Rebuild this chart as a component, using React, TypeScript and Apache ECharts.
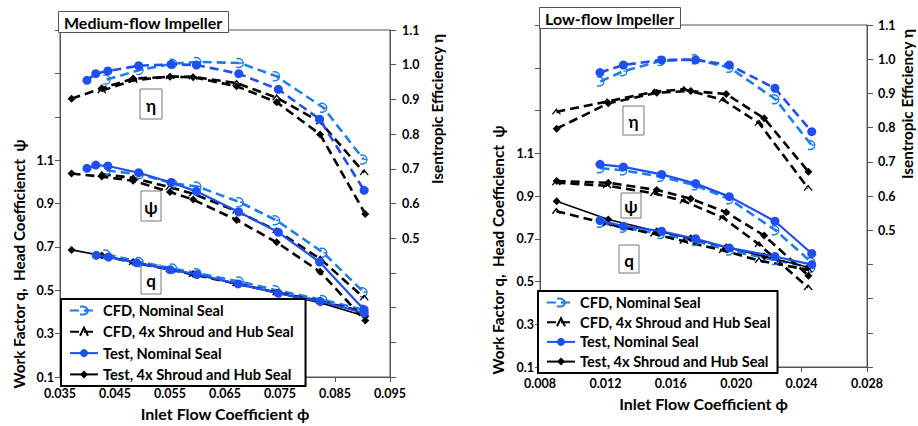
import React, { useEffect, useRef } from "react";
import * as echarts from "echarts";

// ---------- Data: Medium-flow impeller ----------
const M_PHI_TN = [0.0399, 0.0415, 0.0437, 0.0493, 0.0552, 0.0598, 0.0675, 0.0747, 0.0822, 0.0903];
const M_ETA_TN = [0.955, 0.974, 0.982, 0.997, 1.001, 0.999, 0.974, 0.929, 0.843, 0.638];
const M_PSI_TN = [1.062, 1.077, 1.073, 1.042, 0.997, 0.956, 0.861, 0.767, 0.63, 0.41];
const M_PHI_TN_Q = [0.0416, 0.0438, 0.0489, 0.055, 0.0599, 0.0674, 0.0747, 0.0823, 0.0903];
const M_Q_TN = [0.661, 0.653, 0.627, 0.595, 0.573, 0.529, 0.486, 0.449, 0.395];

const M_PHI_T4 = [0.0371, 0.0426, 0.0483, 0.055, 0.0592, 0.0671, 0.0744, 0.0823, 0.0905];
const M_ETA_T4 = [0.902, 0.932, 0.96, 0.965, 0.964, 0.938, 0.892, 0.799, 0.57];
const M_PSI_T4 = [1.038, 1.024, 1.005, 0.953, 0.918, 0.824, 0.721, 0.585, 0.36];
const M_Q_T4 = [0.686, 0.66, 0.63, 0.595, 0.575, 0.53, 0.488, 0.443, 0.38];

const M_PHI_CN = [0.0435, 0.0495, 0.0556, 0.06, 0.0677, 0.0743, 0.0829, 0.0902];
const M_ETA_CN = [0.957, 0.985, 1.003, 1.008, 1.005, 0.967, 0.876, 0.727];
const M_PSI_CN = [1.052, 1.035, 0.992, 0.978, 0.906, 0.823, 0.673, 0.491];
const M_Q_CN = [0.665, 0.63, 0.6, 0.578, 0.54, 0.5, 0.455, 0.41];

const M_PHI_C4 = [0.0426, 0.0483, 0.055, 0.0592, 0.0671, 0.0744, 0.0823, 0.0903];
const M_ETA_C4 = [0.925, 0.955, 0.966, 0.965, 0.947, 0.905, 0.835, 0.689];
const M_PSI_C4 = [1.035, 1.018, 0.975, 0.945, 0.865, 0.775, 0.645, 0.465];
const M_Q_C4 = [0.66, 0.628, 0.595, 0.573, 0.53, 0.49, 0.45, 0.4];

// ---------- Data: Low-flow impeller ----------
const L_PHI_TN = [0.01167, 0.0131, 0.01544, 0.01752, 0.01958, 0.02237, 0.02462];
const L_ETA_TN = [0.961, 0.983, 0.998, 0.998, 0.983, 0.915, 0.788];
const L_PSI_TN = [1.048, 1.036, 1.001, 0.958, 0.897, 0.782, 0.631];
const L_Q_TN = [0.785, 0.759, 0.735, 0.7, 0.657, 0.617, 0.579];

const L_PHI_T4 = [0.00902, 0.01218, 0.01514, 0.01722, 0.01939, 0.02171, 0.02442];
const L_ETA_T4 = [0.797, 0.871, 0.902, 0.907, 0.898, 0.827, 0.671];
const L_PSI_T4 = [0.97, 0.962, 0.928, 0.887, 0.824, 0.715, 0.527];
const L_Q_T4 = [0.876, 0.79, 0.735, 0.702, 0.66, 0.618, 0.567];

const L_PHI_CN = [0.0117, 0.0131, 0.0154, 0.0175, 0.0196, 0.0224, 0.0246];
const L_ETA_CN = [0.935, 0.965, 0.995, 1.0, 0.975, 0.883, 0.749];
const L_PSI_CN = [1.03, 1.02, 0.99, 0.95, 0.885, 0.74, 0.59];
const L_Q_CN = [0.775, 0.752, 0.722, 0.69, 0.645, 0.6, 0.565];

const L_PHI_C4 = [0.009, 0.0121, 0.015, 0.0168, 0.0192, 0.0214, 0.0244];
const L_ETA_C4 = [0.846, 0.876, 0.905, 0.912, 0.881, 0.813, 0.623];
const L_PSI_C4 = [0.962, 0.948, 0.912, 0.876, 0.798, 0.673, 0.472];
const L_Q_C4 = [0.829, 0.77, 0.722, 0.688, 0.645, 0.598, 0.555];

const NAMES = [
  "CFD, Nominal Seal",
  "CFD, 4x Shroud and Hub Seal",
  "Test, Nominal Seal",
  "Test, 4x Shroud and Hub Seal",
];
const TITLES = ["Medium-flow Impeller", "Low-flow Impeller"];
const X_NAME = "Inlet Flow Coefficient ϕ";
const Y_LEFT_NAME = "Work Factor q,  Head Coefficienct  ψ";
const Y_RIGHT_NAME = "Isentropic Efficiency η";

const CFD_BLUE = "#1c7fe8";
const TEST_BLUE = "#1f4ff0";
const FONT = 'Lato, "DejaVu Sans", sans-serif';

const SYM_CFD_NOM = "path://M1,1 C6,0 9,3 9,5 C9,8 6,10 1,9 M5,5 L9,5";
const SYM_CFD_4X = "path://M0,8 L5,0 L10,8";

const zip = (xs: number[], ys: number[]) => xs.map((x, i) => [x, ys[i]]);

type Kind = 0 | 1 | 2 | 3;
function mk(kind: Kind, xi: number, yi: number, xs: number[], ys: number[], dashed: boolean) {
  const base: any = {
    type: "line",
    name: NAMES[kind],
    xAxisIndex: xi,
    yAxisIndex: yi,
    data: zip(xs, ys),
    smooth: false,
    emphasis: { disabled: true },
  };
  if (kind === 0) {
    return {
      ...base,
      z: 2,
      color: CFD_BLUE,
      symbol: SYM_CFD_NOM,
      symbolSize: [7, 9],
      lineStyle: { color: CFD_BLUE, width: 2.6, type: [9, 5] },
      itemStyle: { color: "rgba(0,0,0,0)", borderColor: CFD_BLUE, borderWidth: 1.3 },
    };
  }
  if (kind === 1) {
    return {
      ...base,
      z: 2,
      color: "#000",
      symbol: SYM_CFD_4X,
      symbolSize: [8, 5],
      lineStyle: { color: "#000", width: 2.6, type: [9, 5] },
      itemStyle: { color: "rgba(0,0,0,0)", borderColor: "#000", borderWidth: 1.2 },
    };
  }
  if (kind === 2) {
    return {
      ...base,
      z: 4,
      color: TEST_BLUE,
      symbol: "circle",
      symbolSize: 9,
      lineStyle: { color: TEST_BLUE, width: dashed ? 2.6 : 2.2, type: dashed ? [9, 5] : "solid" },
      itemStyle: { color: TEST_BLUE, borderWidth: 0 },
    };
  }
  return {
    ...base,
    z: 3,
    color: "#000",
    symbol: "diamond",
    symbolSize: 8,
    lineStyle: { color: "#000", width: dashed ? 2.6 : 1.6, type: dashed ? [9, 5] : "solid" },
    itemStyle: { color: "#000", borderWidth: 0 },
  };
}

const tickLabel = { fontFamily: FONT, fontWeight: "bold" as const, fontSize: 12.5, color: "#000" };
const axisLine = { show: true, lineStyle: { color: "#555", width: 1 } };
const axisTick = { show: true, inside: false, length: 5, lineStyle: { color: "#555" } };

function xAxis(grid: number, min: number, max: number, interval: number) {
  return {
    type: "value",
    gridIndex: grid,
    min,
    max,
    interval,
    name: X_NAME,
    nameLocation: "middle",
    nameGap: 28,
    nameTextStyle: { fontFamily: FONT, fontWeight: "bold", fontSize: 16, color: "#000" },
    axisLine,
    axisTick,
    splitLine: { show: false },
    axisLabel: { ...tickLabel, margin: 10, formatter: (v: number) => v.toFixed(3) },
  };
}
function yLeft(grid: number) {
  return {
    type: "value",
    gridIndex: grid,
    position: "left",
    min: 0.1,
    max: 1.7,
    interval: 0.2,
    axisLine,
    axisTick,
    splitLine: { show: false },
    axisLabel: {
      ...tickLabel,
      margin: 6,
      showMaxLabel: true,
      formatter: (v: number) => (v <= 1.1001 ? v.toFixed(1) : ""),
    },
  };
}
function yRight(grid: number, margin: number) {
  return {
    type: "value",
    gridIndex: grid,
    position: "right",
    min: 0.1,
    max: 1.1,
    interval: 0.1,
    axisLine,
    axisTick: { ...axisTick, length: 6 },
    splitLine: { show: false },
    axisLabel: {
      ...tickLabel,
      margin,
      showMinLabel: true,
      formatter: (v: number) => (v >= 0.4999 ? v.toFixed(1) : ""),
    },
  };
}

function labelBox(x: number, y: number, w: number, h: number, t: string) {
  return {
    type: "group",
    x,
    y,
    z: 10,
    children: [
      { type: "rect", shape: { x: 0, y: 0, width: w, height: h }, style: { fill: "#fff", stroke: "#777", lineWidth: 1 } },
      {
        type: "text",
        x: w / 2,
        y: h / 2 + 1,
        style: { text: t, fill: "#000", font: `bold 17px ${FONT}`, align: "center", verticalAlign: "middle" },
      },
    ],
  };
}
function vText(x: number, y: number, t: string) {
  return {
    type: "text",
    x,
    y,
    rotation: Math.PI / 2,
    z: 10,
    style: { text: t, fill: "#000", font: `bold 15.3px ${FONT}`, align: "center", verticalAlign: "middle" },
  };
}

function legend(left: number, top: number, gap: number, padRight: number) {
  return {
    data: NAMES,
    orient: "vertical",
    left,
    top,
    itemWidth: 28,
    itemHeight: 10,
    itemGap: gap,
    padding: [4, padRight, 4, 8],
    borderColor: "#000",
    borderWidth: 2,
    backgroundColor: "#fff",
    selectedMode: false,
    z: 8,
    textStyle: { fontFamily: FONT, fontWeight: "bold", fontSize: 14.6, color: "#000", lineHeight: 14 },
  };
}

export default function App() {
  const ref = useRef<HTMLDivElement>(null);
  useEffect(() => {
    if (!ref.current) return;
    const chart = echarts.init(ref.current, undefined, { renderer: "svg" });
    const series: any[] = [
      // Medium flow: q (axis 0), psi (axis 0), eta (axis 1)
      mk(0, 0, 0, M_PHI_CN, M_Q_CN, true),
      mk(1, 0, 0, M_PHI_C4, M_Q_C4, true),
      mk(2, 0, 0, M_PHI_TN_Q, M_Q_TN, false),
      mk(3, 0, 0, M_PHI_T4, M_Q_T4, false),
      mk(0, 0, 0, M_PHI_CN, M_PSI_CN, true),
      mk(1, 0, 0, M_PHI_C4, M_PSI_C4, true),
      mk(2, 0, 0, M_PHI_TN, M_PSI_TN, false),
      mk(3, 0, 0, M_PHI_T4, M_PSI_T4, true),
      mk(0, 0, 1, M_PHI_CN, M_ETA_CN, true),
      mk(1, 0, 1, M_PHI_C4, M_ETA_C4, true),
      mk(2, 0, 1, M_PHI_TN, M_ETA_TN, true),
      mk(3, 0, 1, M_PHI_T4, M_ETA_T4, true),
      // Low flow: q (axis 2), psi (axis 2), eta (axis 3)
      mk(0, 1, 2, L_PHI_CN, L_Q_CN, true),
      mk(1, 1, 2, L_PHI_C4, L_Q_C4, true),
      mk(2, 1, 2, L_PHI_TN, L_Q_TN, false),
      mk(3, 1, 2, L_PHI_T4, L_Q_T4, false),
      mk(0, 1, 2, L_PHI_CN, L_PSI_CN, true),
      mk(1, 1, 2, L_PHI_C4, L_PSI_C4, true),
      mk(2, 1, 2, L_PHI_TN, L_PSI_TN, false),
      mk(3, 1, 2, L_PHI_T4, L_PSI_T4, true),
      mk(0, 1, 3, L_PHI_CN, L_ETA_CN, true),
      mk(1, 1, 3, L_PHI_C4, L_ETA_C4, true),
      mk(2, 1, 3, L_PHI_TN, L_ETA_TN, true),
      mk(3, 1, 3, L_PHI_T4, L_ETA_T4, true),
    ];
    const titleStyle = { fontFamily: FONT, fontWeight: "bold", fontSize: 16, color: "#000" };
    chart.setOption({
      animation: false,
      backgroundColor: "#fff",
      title: [
        {
          text: TITLES[0],
          left: 58,
          top: 11,
          padding: [3, 6, 3, 6],
          borderColor: "#555",
          borderWidth: 1,
          backgroundColor: "#fff",
          z: 9,
          textStyle: titleStyle,
        },
        {
          text: TITLES[1],
          left: 539,
          top: 7,
          padding: [3, 6, 3, 6],
          borderColor: "#555",
          borderWidth: 1,
          backgroundColor: "#fff",
          z: 9,
          textStyle: titleStyle,
        },
      ],
      legend: [legend(61, 299, 6.3, 12), legend(538, 291, 4.7, 7)],
      grid: [
        { left: 60, right: 528, top: 30, bottom: 46, show: true, borderColor: "#555", borderWidth: 1, containLabel: false },
        { left: 540, right: 51, top: 25, bottom: 59, show: true, borderColor: "#555", borderWidth: 1, containLabel: false },
      ],
      xAxis: [xAxis(0, 0.035, 0.095, 0.01), xAxis(1, 0.008, 0.028, 0.004)],
      yAxis: [yLeft(0), yRight(0, 12), yLeft(1), yRight(1, 11)],
      graphic: [
        labelBox(140, 89, 22, 30, "η"),
        labelBox(141, 191, 20, 30, "ψ"),
        labelBox(141, 265, 20, 29, "q"),
        labelBox(623, 106, 21, 29, "η"),
        labelBox(621, 193, 20, 25, "ψ"),
        labelBox(619, 245, 20, 28, "q"),
        vText(19, 264, Y_LEFT_NAME),
        vText(437, 109, Y_RIGHT_NAME),
        vText(498, 250, Y_LEFT_NAME),
        vText(907, 104, Y_RIGHT_NAME),
      ],
      series,
    });
    return () => chart.dispose();
  }, []);
  return (
    <div
      ref={ref}
      style={{ position: "fixed", left: 0, top: 0, width: 918, height: 426, background: "#fff" }}
    />
  );
}
